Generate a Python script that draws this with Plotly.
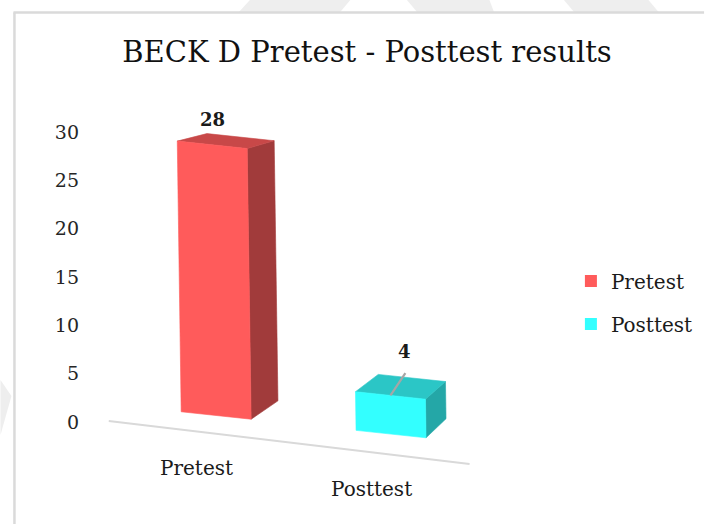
import plotly.graph_objects as go

# ---------------- data ----------------
categories = ["Pretest", "Posttest"]
values = [28, 4]
y_ticks = [0, 5, 10, 15, 20, 25, 30]
title_text = "BECK D Pretest - Posttest results"

# ---------------- styles ----------------
FRONT = ["#FF5B5B", "#33FFFF"]
TOP = ["#C84848", "#2BC6C6"]
SIDE = ["#A13B3B", "#24A7A7"]
LABEL_DX = [0.0, 0.08]
LABEL_DY = [2.6, 4.5]
LEADER = [False, True]
SERIF = "DejaVu Serif, Liberation Serif, serif"
TXT = "#1a1a1a"

W_FIG, H_FIG = 708, 524
ML, MR, MT, MB = 84, 148, 100, 10
PW = W_FIG - ML - MR
PH = H_FIG - MT - MB
PX_PER_CAT, CAT0_PX = 176.0, 217.0
PX_PER_VAL, VAL0_PX = 9.667, 422.0
X_RANGE = [(ML - CAT0_PX) / PX_PER_CAT, (W_FIG - MR - CAT0_PX) / PX_PER_CAT]
Y_RANGE = [-(H_FIG - MB - VAL0_PX) / PX_PER_VAL, (VAL0_PX - MT) / PX_PER_VAL]

# pseudo-3D projection parameters
BAR_W = 0.40
SLANT = -0.0008
FLOOR0, FLOOR_S = 0.673, -1.924
VP = (4.13, 49.0)
DEPTH = 0.039
FLOORLINE0, FLOORLINE_S = -1.221, -2.156


def front(x, v):
    return (x + SLANT * v, v + FLOOR0 + FLOOR_S * x)


def back(p):
    return (p[0] + DEPTH * (VP[0] - p[0]), p[1] + DEPTH * (VP[1] - p[1]))


def floorline(x):
    return FLOORLINE0 + FLOORLINE_S * x


def poly(pts, color):
    xs = [p[0] for p in pts] + [pts[0][0]]
    ys = [p[1] for p in pts] + [pts[0][1]]
    return go.Scatter(x=xs, y=ys, mode="lines", fill="toself", fillcolor=color,
                      line=dict(width=0.6, color=color), showlegend=False,
                      hoverinfo="skip")


fig = go.Figure()

# floor line
fx0 = 0 - 0.614
fx1 = (len(categories) - 1) + 0.449
fig.add_trace(go.Scatter(x=[fx0, fx1], y=[floorline(fx0), floorline(fx1)], mode="lines",
                         line=dict(color="#D9D9D9", width=2), showlegend=False,
                         hoverinfo="skip"))

annotations = []
for i, (cat, v) in enumerate(zip(categories, values)):
    c = i
    fl0 = front(c - BAR_W / 2, 0)
    fr0 = front(c + BAR_W / 2, 0)
    fl1 = front(c - BAR_W / 2, v)
    fr1 = front(c + BAR_W / 2, v)
    br0, br1, bl1 = back(fr0), back(fr1), back(fl1)
    fig.add_trace(poly([fr0, fr1, br1, br0], SIDE[i]))
    fig.add_trace(poly([fl1, fr1, br1, bl1], TOP[i]))
    fig.add_trace(poly([fl0, fr0, fr1, fl1], FRONT[i]))

    top_c = front(c, v)
    lx, ly = top_c[0] + LABEL_DX[i], top_c[1] + LABEL_DY[i]
    if LEADER[i]:
        fig.add_trace(go.Scatter(x=[lx + 0.005, top_c[0]], y=[ly - 2.2, top_c[1]], mode="lines",
                                 line=dict(color="#A6A6A6", width=2.2), showlegend=False,
                                 hoverinfo="skip"))
    annotations.append(dict(x=lx, y=ly, xref="x", yref="y", text="<b>%s</b>" % v,
                            showarrow=False, font=dict(family=SERIF, size=18, color=TXT)))
    lab_x = c - 0.11
    annotations.append(dict(x=lab_x, y=floorline(lab_x) - 3.8, xref="x", yref="y", text=cat,
                            showarrow=False, font=dict(family=SERIF, size=20, color=TXT)))

# legend entries
for i, cat in enumerate(categories):
    fig.add_trace(go.Scatter(x=[None], y=[None], mode="markers", name=cat, legendgroup=cat,
                             marker=dict(symbol="square", size=12, color=FRONT[i])))


def px_x(p):
    return (p - ML) / PW


def px_y(p):
    return (H_FIG - MB - p) / PH


def path_px(pts):
    d = "M " + " L ".join("%.4f,%.4f" % (px_x(x), px_y(y)) for x, y in pts) + " Z"
    return d


# faint background watermark fragments and page frame
WATERMARK = [
    [(239, 13), (251, 0), (352, 0), (341, 13)],
    [(409, 0), (492, 0), (497, 13), (420, 13)],
    [(567, 0), (652, 0), (663, 13), (578, 13)],
    [(0, 380), (11, 396), (0, 435)],
]
shapes = [dict(type="path", xref="paper", yref="paper", path=path_px(p),
               fillcolor="#EEEEEE", line=dict(width=0), layer="below") for p in WATERMARK]
shapes += [
    dict(type="line", xref="paper", yref="paper", x0=px_x(13), x1=px_x(708),
         y0=px_y(12.5), y1=px_y(12.5), line=dict(color="#DADADA", width=2.5)),
    dict(type="line", xref="paper", yref="paper", x0=px_x(14), x1=px_x(14),
         y0=px_y(12.5), y1=px_y(524), line=dict(color="#DADADA", width=2.5)),
]

fig.update_layout(
    width=W_FIG, height=H_FIG,
    margin=dict(l=ML, r=MR, t=MT, b=MB),
    paper_bgcolor="white", plot_bgcolor="white",
    title=dict(text=title_text, x=367 / W_FIG, xref="container", xanchor="center",
               y=1 - 52 / H_FIG, yanchor="middle",
               font=dict(family=SERIF, size=29, color="#111111")),
    xaxis=dict(range=X_RANGE, visible=False, fixedrange=True),
    yaxis=dict(range=Y_RANGE, tickvals=y_ticks, showgrid=False, zeroline=False,
               showline=False, ticks="", ticklabelstandoff=4,
               tickfont=dict(family=SERIF, size=19, color="#262626"),
               fixedrange=True),
    legend=dict(x=px_x(574), xanchor="left", y=px_y(261.5), yanchor="top",
                traceorder="grouped", tracegroupgap=14,
                font=dict(family=SERIF, size=20, color=TXT), bgcolor="rgba(0,0,0,0)"),
    annotations=annotations,
    shapes=shapes,
    showlegend=True,
)

fig.write_html("out.html", config={"displayModeBar": False},
               post_script="document.body.style.margin='0';")
